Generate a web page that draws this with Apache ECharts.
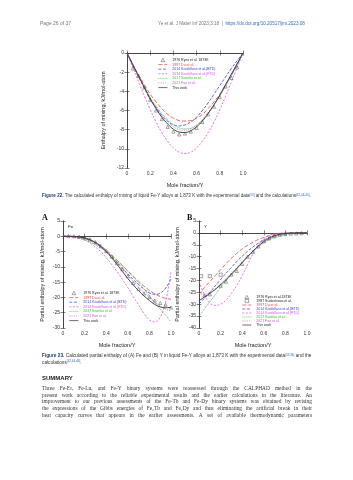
<!DOCTYPE html>
<html><head><meta charset="utf-8">
<script src="https://cdn.jsdelivr.net/npm/echarts@6/dist/echarts.min.js"></script>
<style>html,body{margin:0;padding:0;background:#fff}#c{width:353px;height:480px}</style>
</head><body><div id="c"></div>
<script>
const xs = [0,0.05,0.1,0.15,0.2,0.25,0.3,0.35,0.4,0.45,0.5,0.55,0.6,0.65,0.7,0.75,0.8,0.85,0.9,0.95,1];
const xTicks = ['0','0.2','0.4','0.6','0.8','1.0'];
// Figure 22: enthalpy of mixing
const mixThisWork = [0,-1.2,-2.4,-3.6,-4.8,-5.8,-6.7,-7.4,-7.95,-8.25,-8.3,-8.1,-7.7,-7.1,-6.3,-5.4,-4.4,-3.3,-2.2,-1.1,0];
const mixDu = [0,-1.2,-2.3,-3.3,-4.3,-5.1,-5.8,-6.4,-6.8,-7.05,-7.1,-7.05,-6.8,-6.4,-5.8,-5.1,-4.3,-3.3,-2.3,-1.2,0];
const mixBTD = [0,-1.3,-2.5,-3.7,-4.8,-5.7,-6.5,-7.1,-7.5,-7.6,-7.5,-7.2,-6.7,-6.0,-5.2,-4.3,-3.4,-2.5,-1.6,-0.8,0];
const mixFTD = [0,-1.5,-3.0,-4.5,-5.9,-7.2,-8.3,-9.2,-9.9,-10.35,-10.5,-10.35,-9.9,-9.2,-8.3,-7.2,-5.9,-4.5,-3.0,-1.5,0];
const mixSaenko = [0,-1.2,-2.4,-3.5,-4.6,-5.5,-6.3,-6.95,-7.45,-7.8,-7.9,-7.85,-7.55,-7.0,-6.3,-5.45,-4.5,-3.45,-2.35,-1.2,0];
const mixFan = [0,-1.25,-2.45,-3.6,-4.7,-5.65,-6.5,-7.2,-7.7,-8.0,-8.05,-7.9,-7.5,-6.95,-6.2,-5.35,-4.4,-3.35,-2.25,-1.15,0];
const mixRyssX = [0.05,0.1,0.15,0.2,0.25,0.3,0.35,0.4,0.45,0.5,0.55,0.6,0.65,0.7,0.75,0.8,0.85,0.9,0.95];
const mixRyssY = [-1.6,-2.4,-3.6,-4.9,-6.0,-6.9,-7.7,-8.2,-8.5,-8.4,-8.2,-7.8,-7.2,-6.4,-5.6,-4.6,-3.5,-2.6,-1.5];
// Figure 23A: partial enthalpy of Fe
const feThisWork = [0,0,-0.05,-0.2,-0.5,-1.1,-2.0,-3.3,-5.0,-7.0,-9.2,-11.5,-13.8,-15.9,-17.8,-19.5,-21.0,-22.3,-23.1,-23.4,-23.2];
const feDu = [0,0,-0.1,-0.3,-0.6,-1.2,-2.0,-3.1,-4.5,-6.1,-7.8,-9.5,-11.3,-13.0,-14.7,-16.3,-17.7,-18.8,-19.7,-20.3,-20.6];
const feBTD = [0,0,-0.1,-0.3,-0.7,-1.4,-2.3,-3.5,-5.0,-6.7,-8.5,-10.4,-12.3,-14.1,-15.8,-17.3,-18.5,-19.0,-18.6,-17.0,-14.0];
const feFTD = [0,0,-0.2,-0.6,-1.2,-2.2,-3.5,-5.1,-7.0,-9.2,-11.5,-14.1,-16.8,-19.7,-22.5,-25.3,-27.4,-28.0,-26.5,-21.5,-11.5];
const feSaenko = [0,-0.1,-0.3,-0.7,-1.2,-1.9,-2.8,-3.8,-5.0,-6.4,-8.0,-9.7,-11.5,-13.3,-15.2,-17.3,-19.5,-21.6,-23.8,-25.9,-28.0];
const feFan = [0,0,-0.1,-0.3,-0.6,-1.3,-2.2,-3.5,-5.0,-6.8,-8.8,-10.8,-12.8,-14.7,-16.6,-18.4,-20.0,-21.5,-22.8,-23.8,-24.5];
const feRyssX = [0.05,0.1,0.15,0.2,0.25,0.3,0.35,0.4,0.45,0.5,0.55,0.6,0.65,0.7,0.75,0.8,0.85,0.9,0.95,1.0];
const feRyssY = [0.1,0,-0.1,-0.4,-1.0,-1.9,-3.2,-4.8,-6.6,-8.8,-10.8,-13.0,-15.3,-17.2,-18.7,-19.9,-21.0,-21.8,-22.4,-23.3];
// Figure 23B: partial enthalpy of Y
const yThisWork = [-28.5,-27,-25.5,-23.8,-21.8,-19.7,-17.4,-15,-12.5,-10,-7.6,-5.5,-3.6,-2.2,-1.2,-0.6,-0.25,-0.1,0,0,0];
const yDu = [-26,-23,-20.5,-18,-15.5,-13,-10.7,-8.6,-6.8,-5.2,-3.9,-2.8,-1.9,-1.2,-0.7,-0.35,-0.15,-0.05,0,0,0];
const yBTD = [-30,-27.5,-25,-22.3,-19.6,-17,-14.5,-12,-9.8,-7.7,-5.9,-4.3,-3,-1.9,-1.1,-0.6,-0.25,-0.1,0,0,0];
const yFTD = [-20.5,-26,-29.5,-30.5,-30,-28.3,-25.5,-22,-18,-13.3,-8.8,-5,-2.4,-1,-0.4,-0.1,0,0,0,0,0];
const ySaenko = [-35,-32,-29,-26,-23,-20.2,-17.5,-14.9,-12.4,-10,-7.8,-5.8,-4.2,-2.9,-1.9,-1.2,-0.7,-0.35,-0.15,-0.05,0];
const yFan = [-25.5,-25.8,-25,-23.5,-21.5,-19.3,-17,-14.6,-12.2,-9.9,-7.7,-5.7,-4,-2.6,-1.6,-0.9,-0.45,-0.2,-0.05,0,0];
const yRyssX = [0.05,0.1,0.2,0.25,0.3,0.35,0.4,0.45,0.5,0.55,0.6,0.65,0.7,0.75,0.8,0.85,0.9,0.95];
const yRyssY = [-26.3,-25.8,-22.2,-20.5,-17.5,-16,-13,-10,-8,-5.7,-3.5,-2.3,-1.4,-0.8,-0.5,-0.3,-0.2,-0.1];
const ySudX = [0.02,0.1,0.2];
const ySudY = [-18.2,-18.2,-17.6];

const N_RYSS = '1976 Ryss et al. 1873K', N_RYSS_B = '1976 Ryss et al.1873K', N_SUD = '1987 Sudavtsova et al.',
  N_DU = '1997 Du et al.', N_BTD = '2014 Kardellass et al.(BTD)', N_FTD = '2014 Kardellass et al.(FTD)',
  N_SAE = '2017 Saenko et al.', N_FAN = '2021 Fan et al.', N_TW = 'This work';
const C = {du:'#e8423a', btd:'#3c3fc4', ftd:'#e44de4', sae:'#34c23a', fan:'#c45ac8', tw:'#333333', exp:'#444444'};
const SANS = '"Liberation Sans", Arial, sans-serif';
const SERIF = '"Liberation Serif", "Times New Roman", serif';

const pairs = (xarr, yarr) => xarr.map((x, i) => [x, yarr[i]]);
function lineS(name, arr, color, type, g, w) {
  return {type:'line', name, xAxisIndex:g*2, yAxisIndex:g*2, data:pairs(xs, arr), smooth:0.4,
    symbol:'none', lineStyle:{color, width:w||0.8, type}, itemStyle:{color}, z:3};
}
function scatS(name, xa, ya, g, sym) {
  return {type:'scatter', name, xAxisIndex:g*2, yAxisIndex:g*2, data:pairs(xa, ya), symbol:sym, symbolSize:3.2,
    itemStyle:{color:'rgba(255,255,255,0)', borderColor:C.exp, borderWidth:0.6}, z:4};
}
function curves(g, tw, du, btd, ftd, sae, fan) {
  return [
    lineS(N_DU, du, C.du, [4,2], g),
    lineS(N_BTD, btd, C.btd, [3,1.6], g),
    lineS(N_FTD, ftd, C.ftd, [2,1.6], g),
    lineS(N_SAE, sae, C.sae, [1,1], g, 0.9),
    lineS(N_FAN, fan, C.fan, [1,1.2], g, 0.8),
    lineS(N_TW, tw, C.tw, 'solid', g, 0.9)
  ];
}
const grids = [
  {left:127, top:53, width:116, height:115},
  {left:63, top:221, width:108, height:107},
  {left:199, top:221, width:108, height:107}
];
const lab = {fontSize:5, color:'#333', fontFamily:SANS, margin:3};
const nameSt = {fontSize:5.5, color:'#222', fontFamily:SANS};
const xAxes = [], yAxes = [];
const yCfg = [[-12,0,2,'Enthalpy of mixing, kJ/mol-atom',21],[-30,5,5,'Partial enthalpy of mixing, kJ/mol-atom',18],[-40,5,5,'Partial enthalpy of mixing, kJ/mol-atom',19]];
grids.forEach((gr, g) => {
  const base = {gridIndex:g, type:'value', min:0, max:1, interval:0.2,
    axisLine:{lineStyle:{color:'#333', width:0.7}}, axisTick:{inside:true, length:2.5, lineStyle:{color:'#333', width:0.6}}, splitLine:{show:false}};
  xAxes.push(Object.assign({}, base, {position:'bottom', name:'Mole fraction/Y', nameLocation:'middle', nameGap:14, nameTextStyle:nameSt,
    axisLabel:Object.assign({}, lab, {formatter:(v)=>xTicks[Math.round(v*5)]})}));
  xAxes.push(Object.assign({}, base, {position:'top', axisLabel:{show:false}}));
  const yc = yCfg[g];
  const ybase = {gridIndex:g, type:'value', min:yc[0], max:yc[1], interval:yc[2],
    axisLine:{show:true, lineStyle:{color:'#333', width:0.7}}, axisTick:{show:true, inside:true, length:2.5, lineStyle:{color:'#333', width:0.6}}, splitLine:{show:false}};
  yAxes.push(Object.assign({}, ybase, {position:'left', name:yc[3], nameLocation:'middle', nameGap:yc[4], nameTextStyle:nameSt,
    axisLabel:Object.assign({}, lab)}));
  yAxes.push(Object.assign({}, ybase, {position:'right', axisLabel:{show:false}}));
});

const series = [].concat(
  [scatS(N_RYSS, mixRyssX, mixRyssY, 0, 'triangle')],
  curves(0, mixThisWork, mixDu, mixBTD, mixFTD, mixSaenko, mixFan),
  [scatS(N_RYSS, feRyssX, feRyssY, 1, 'triangle')],
  curves(1, feThisWork, feDu, feBTD, feFTD, feSaenko, feFan),
  [scatS(N_RYSS_B, yRyssX, yRyssY, 2, 'triangle'), scatS(N_SUD, ySudX, ySudY, 2, 'rect')],
  curves(2, yThisWork, yDu, yBTD, yFTD, ySaenko, yFan)
);

const hideSym = {opacity:0};
const expSym = {color:'#ffffff', borderColor:C.exp, borderWidth:0.6};
const TRI = 'path://M5,0L10,9L0,9Z', SQ = 'path://M0,0L9,0L9,9L0,9Z';
function legItems(first, icons) {
  return first.map((n, i) => ({name:n, icon:icons[i], textStyle:{color:'#222'}, itemStyle:expSym})).concat([
    {name:N_DU, textStyle:{color:C.du}, itemStyle:hideSym}, {name:N_BTD, textStyle:{color:C.btd}, itemStyle:hideSym},
    {name:N_FTD, textStyle:{color:C.ftd}, itemStyle:hideSym}, {name:N_SAE, textStyle:{color:C.sae}, itemStyle:hideSym},
    {name:N_FAN, textStyle:{color:C.fan}, itemStyle:hideSym}, {name:N_TW, textStyle:{color:'#222'}, itemStyle:hideSym}]);
}
function legend(left, top, first, icons, gap) {
  return {data:legItems(first, icons), orient:'vertical', left, top, padding:0, itemWidth:9, itemHeight:3.4, itemGap:gap,
    selectedMode:false, symbolKeepAspect:true, lineStyle:{width:0.7}, textStyle:{fontSize:3.5, fontFamily:SANS, lineHeight:4}};
}

const sup = {font:'3px '+SANS, fill:'#3a6db5', color:'#3a6db5', verticalAlign:'top'};
const graphic = [
  {type:'text', x:40, y:24, style:{text:'Page 26 of 37', font:'5px '+SANS, fill:'#777', textVerticalAlign:'middle'}},
  {type:'text', x:158, y:24, style:{text:'{g|Ye et al. J Mater Inf 2023;3:18  |  }{l|https://dx.doi.org/10.20517/jmi.2023.08}', font:'4.6px '+SANS, fill:'#777', textVerticalAlign:'middle',
    rich:{g:{font:'4.6px '+SANS, fill:'#777', color:'#777'}, l:{font:'4.6px '+SANS, fill:'#3a6db5', color:'#3a6db5'}}}},
  {type:'text', x:42, y:196, style:{text:'{b|Figure 22.} The calculated enthalpy of mixing of liquid Fe-Y alloys at 1,873 K with the experimental data{s|[33]} and the calculations{s|[42,44-46]}.',
    font:'4.55px '+SANS, fill:'#333', textVerticalAlign:'middle', rich:{b:{font:'bold 4.55px '+SANS, fill:'#1f3f70', color:'#1f3f70'}, s:sup}}},
  {type:'text', x:42, y:218, style:{text:'A', font:'bold 8px '+SERIF, fill:'#111', textVerticalAlign:'middle'}},
  {type:'text', x:187, y:218, style:{text:'B', font:'bold 8px '+SERIF, fill:'#111', textVerticalAlign:'middle'}},
  {type:'text', x:68, y:227, style:{text:'Fe', font:'4.4px '+SANS, fill:'#222', textVerticalAlign:'middle'}},
  {type:'text', x:204, y:227, style:{text:'Y', font:'4.4px '+SANS, fill:'#222', textVerticalAlign:'middle'}},
  {type:'text', x:42, y:356, style:{text:'{b|Figure 23.} Calculated partial enthalpy of (A) Fe and (B) Y in liquid Fe-Y alloys at 1,873 K with the experimental data{s|[33,34]} and the',
    font:'4.75px '+SANS, fill:'#333', textVerticalAlign:'middle', rich:{b:{font:'bold 4.75px '+SANS, fill:'#1f3f70', color:'#1f3f70'}, s:sup}}},
  {type:'text', x:42, y:362.5, style:{text:'calculations{s|[42,44-46]}.', font:'4.75px '+SANS, fill:'#333', textVerticalAlign:'middle', rich:{s:sup}}},
  {type:'text', x:42, y:378, style:{text:'SUMMARY', font:'bold 6px '+SANS, fill:'#222', textVerticalAlign:'middle'}},
];
const para = [
  'Three Fe-Er, Fe-Lu, and Fe-Y binary systems were reassessed through the CALPHAD method in the',
  'present work according to the reliable experimental results and the earlier calculations in the literature. An',
  'improvement to our previous assessments of the Fe-Tb and Fe-Dy binary systems was obtained by revising',
  'the expressions of the Gibbs energies of Fe\u2082Tb and Fe\u2082Dy and thus eliminating the artificial break in their',
  'heat capacity curves that appears in the earlier assessments. A set of available thermodynamic parameters'
];
// justified paragraph text (text layout only)
const PFONT = '5.4px ' + SERIF;
const mctx = document.createElement('canvas').getContext('2d');
mctx.font = PFONT;
para.forEach((t, i) => {
  const words = t.split(' ');
  const widths = words.map(w => mctx.measureText(w).width);
  const total = widths.reduce((a, b) => a + b, 0);
  const gap = (270 - total) / (words.length - 1);
  let x = 42;
  words.forEach((w, k) => {
    graphic.push({type:'text', x, y:388.5 + i*6.7, style:{text:w, font:PFONT, fill:'#333', textVerticalAlign:'middle'}});
    x += widths[k] + gap;
  });
});

const chart = echarts.init(document.getElementById('c'), null, {renderer:'canvas'});
chart.setOption({
  animation:false, backgroundColor:'#fff',
  grid:grids, xAxis:xAxes, yAxis:yAxes, series,
  legend:[legend(158, 58, [N_RYSS], [TRI], 0.6), legend(69, 291, [N_RYSS], [TRI], 0.6),
          legend(242, 295, [N_RYSS_B, N_SUD], [TRI, SQ], 0)],
  graphic
});
</script></body></html>
